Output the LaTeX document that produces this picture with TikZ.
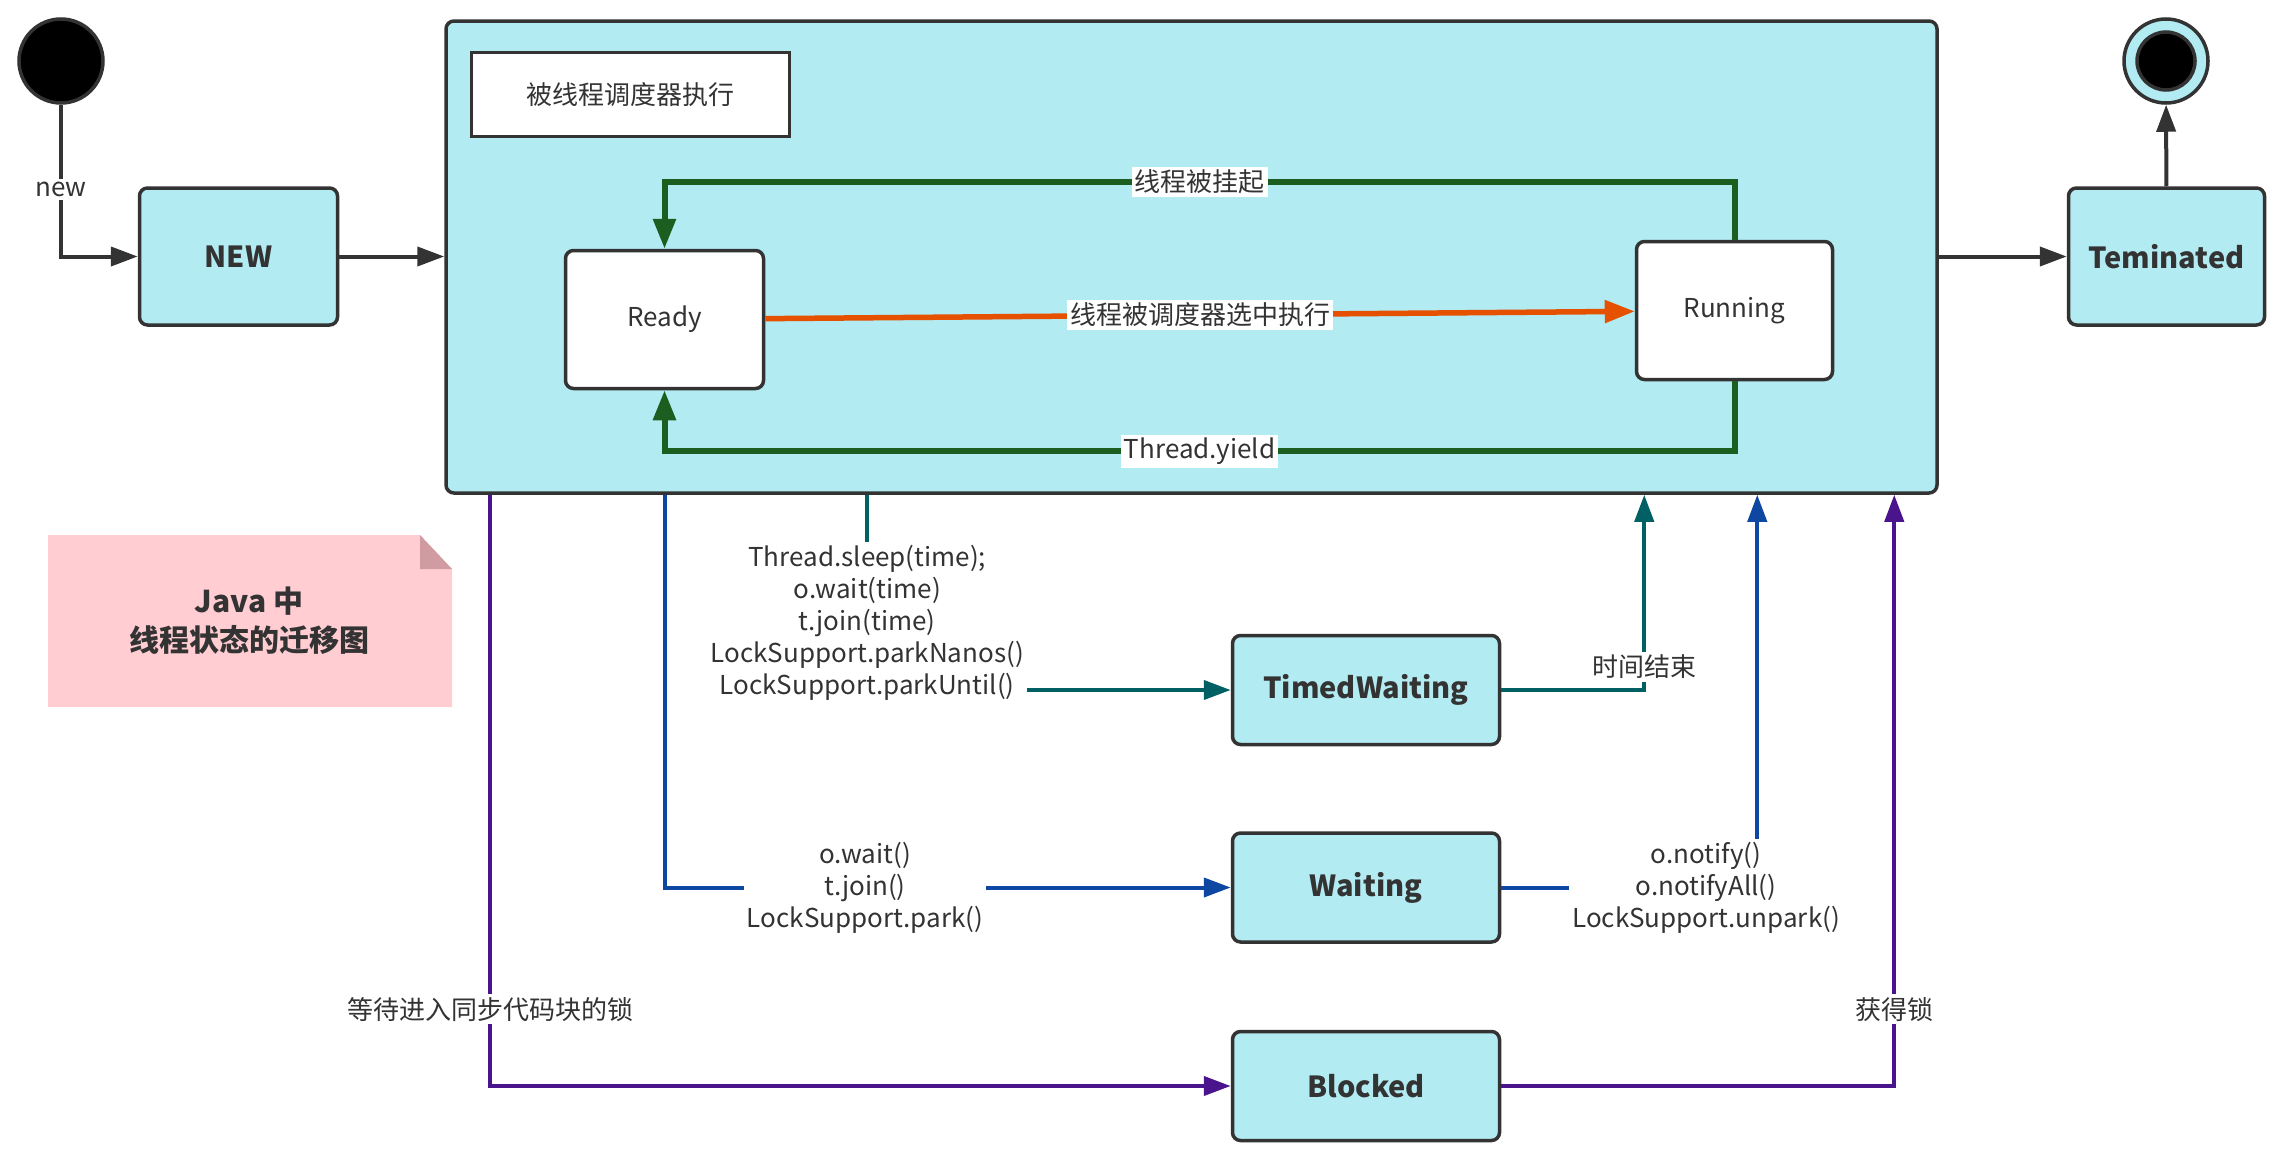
\documentclass[tikz,border=0pt]{standalone}
\usepackage{fontspec}
\setmainfont{Noto Sans CJK SC}
\usetikzlibrary{positioning, arrows.meta, calc}
\definecolor{stfill}{HTML}{B2EBF2}
\definecolor{stline}{HTML}{333333}
\definecolor{loopgreen}{HTML}{1B5E20}
\definecolor{pickorange}{HTML}{E65100}
\definecolor{timeteal}{HTML}{006064}
\definecolor{waitblue}{HTML}{0D47A1}
\definecolor{lockpurple}{HTML}{4A148C}
\definecolor{notepink}{HTML}{FFCDD2}
\definecolor{notefold}{HTML}{D09CA1}

\begin{document}
\begin{tikzpicture}[x=1pt, y=-1pt,
    st/.style={draw=stline, line width=3.5pt, fill=stfill, rounded corners=8pt, text=stline, font=\fontsize{29}{34}\selectfont\bfseries, minimum width=198pt, minimum height=137pt, align=center},
    substate/.style={st, fill=white, font=\fontsize{26}{32}\selectfont},
    wt/.style={st, minimum width=267pt, minimum height=109pt},
    dot/.style={circle, draw=stline, line width=3.5pt, fill=black, inner sep=0pt},
    lbl/.style={fill=white, text=stline, font=\fontsize{26}{32}\selectfont, align=center, inner sep=3pt},
    tr/.style={line width=4pt, -{Triangle[length=27pt, width=19pt]}},
    loopline/.style={tr, line width=6pt, color=loopgreen, -{Triangle[length=30pt, width=22pt]}}]
  \useasboundingbox (0,0) rectangle (2281,1159);
  % start / end
  \node[dot, minimum size=84pt] (start) at (61,61) {};
  \node[st, minimum width=198pt, minimum height=137pt] (new) at (238.5,256.5) {NEW};
  \node[st, minimum width=1491pt, minimum height=472pt] (sched) at (1191.5,257) {};
  \node[st, minimum width=196pt] (term) at (2166.5,256.5) {Teminated};
  \node[dot, fill=stfill, minimum size=84pt] (endc) at (2166,61) {};
  \node[dot, minimum size=58pt] (endin) at (endc) {};
  % inside the scheduler box
  \node[draw=stline, line width=3.5pt, fill=white, minimum width=318pt, minimum height=84pt, text=stline, font=\fontsize{26}{32}\selectfont] (schedlbl) at (630.5,94.5) {被线程调度器执行};
  \node[substate, minimum height=138pt] (ready) at (664.5,319.5) {Ready};
  \node[substate, minimum width=196pt, minimum height=138pt] (running) at (1734.5,310.5) {Running};
  % waiting states
  \node[wt] (tw) at (1366,690) {TimedWaiting};
  \node[wt, below=85pt of tw] (wait) {Waiting};
  \node[wt, below=86pt of wait] (blocked) {Blocked};
  % note
  \fill[notepink] (48,535) -- (420,535) -- (452,569) -- (452,707) -- (48,707) -- cycle;
  \fill[notefold] (420,535) -- (452,569) -- (420,569) -- cycle;
  \node[text=stline, font=\fontsize{30}{39}\selectfont\bfseries, align=center] (title) at (249,621) {Java 中\\线程状态的迁移图};
  % points on the scheduler box
  \coordinate (lockTop) at ($(sched.south west)+(46,0)$);
  \coordinate (waitTop) at (ready.south |- sched.south);
  \coordinate (sleepTop) at ($(sched.south west)+(423,0)$);
  \coordinate (timeUp) at ($(sched.south west)+(1200,0)$);
  \coordinate (notifyUp) at ($(sched.south west)+(1313,0)$);
  \coordinate (lockUp) at ($(sched.south west)+(1450,0)$);
  % connectors
  \draw[tr, color=stline] (start) |- node[lbl, pos=0.28] {new} (new);
  \draw[tr, color=stline] (new.east) -- (new.east -| sched.west);
  \draw[tr, color=stline] (sched.east |- term.west) -- (term.west);
  \draw[tr, color=stline] (term) -- (endc);
  \draw[loopline] (running.north) -- ++(0,-58) -| node[lbl, pos=0.25] {线程被挂起} (ready.north);
  \draw[loopline] (running.south) -- ++(0,70) -| node[lbl, pos=0.25] {Thread.yield} (ready.south);
  \draw[tr, line width=5.5pt, color=pickorange, -{Triangle[length=30pt, width=22pt]}] (ready) -- node[lbl] {线程被调度器选中执行} (running);
  \draw[tr, color=timeteal] (sleepTop) |- node[lbl, pos=0.328] {Thread.sleep(time);\\o.wait(time)\\t.join(time)\\LockSupport.parkNanos()\\LockSupport.parkUntil()} (tw);
  \draw[tr, color=timeteal] (tw) -| node[lbl, pos=0.56] {时间结束} (timeUp);
  \draw[tr, color=waitblue] (waitTop) |- node[lbl, pos=0.677] {o.wait()\\t.join()\\LockSupport.park()} (wait);
  \draw[tr, color=waitblue] (wait) -| node[lbl, pos=0.40] {o.notify()\\o.notifyAll()\\LockSupport.unpark()} (notifyUp);
  \draw[tr, color=lockpurple] (lockTop) |- node[lbl, pos=0.435] {等待进入同步代码块的锁} (blocked);
  \draw[tr, color=lockpurple] (blocked) -| node[lbl, pos=0.565] {获得锁} (lockUp);
\end{tikzpicture}
\end{document}
